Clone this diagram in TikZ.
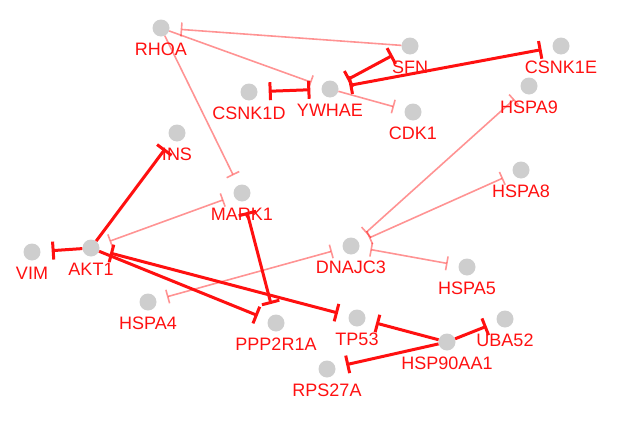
\documentclass[tikz,border=0pt]{standalone}
\usepackage{fontspec}
\setmainfont{Liberation Sans}
\usetikzlibrary{arrows.meta}

\definecolor{nodegray}{RGB}{206,206,206}
\definecolor{inhibred}{RGB}{255,16,16}

\begin{document}
\begin{tikzpicture}[
    x=1pt, y=-1pt,
    font=\fontsize{18}{18}\selectfont,
    gene/.style={
        circle, fill=nodegray, minimum size=17pt, inner sep=0pt,
        label={[genelabel]below:#1}
    },
    genelabel/.style={text=inhibred, inner sep=0pt, label distance=6pt},
    strong/.style={draw=inhibred, line width=3pt},
    weak/.style={draw=inhibred, draw opacity=0.45, line width=1.6pt},
    inhib/.style={-{Bar[width=#1]}, shorten >=11pt},
    mutual/.style={{Bar[width=#1]}-{Bar[width=#1]}, shorten >=11pt, shorten <=11pt},
]

    \useasboundingbox (0,0) rectangle (622,434);

    % ---------- upper cluster ----------
    \node[gene=RHOA] (rhoa) at (161,28) {};
    \node[gene=SFN] (sfn) at (410,46) {};
    \node[gene=CSNK1E] (csnk1e) at (561,46) {};
    \node[gene=CSNK1D] (csnk1d) at (249,92) {};
    \node[gene=YWHAE] (ywhae) at (330,89) {};
    \node[gene=CDK1] (cdk1) at (413,112) {};
    \node[gene=HSPA9] (hspa9) at (529,86) {};

    % ---------- middle ----------
    \node[gene=INS] (ins) at (177,133) {};
    \node[gene=MARK1] (mark1) at (242,193) {};
    \node[gene=HSPA8] (hspa8) at (521,170) {};
    \node[gene=VIM] (vim) at (32,252) {};
    \node[gene=AKT1] (akt1) at (91,248) {};
    \node[gene=DNAJC3] (dnajc3) at (351,246) {};
    \node[gene=HSPA5] (hspa5) at (467,267) {};

    % ---------- lower cluster ----------
    \node[gene=HSPA4] (hspa4) at (148,302) {};
    \node[gene=PPP2R1A] (ppp2r1a) at (276,323) {};
    \node[gene=TP53] (tp53) at (357,318) {};
    \node[gene=UBA52] (uba52) at (505,319) {};
    \node[gene=HSP90AA1] (hsp90aa1) at (447,342) {};
    \node[gene=RPS27A] (rps27a) at (327,369) {};

    % weak inhibitions
    \draw[weak, inhib=14pt] (sfn) -- (rhoa);
    \draw[weak, inhib=14pt] (rhoa) -- (ywhae);
    \draw[weak, inhib=14pt] (rhoa) -- (mark1);
    \draw[weak, mutual=14pt] (akt1) -- (mark1);
    \draw[weak, inhib=14pt] (ywhae) -- (cdk1);
    \draw[weak, mutual=14pt] (dnajc3) -- (hspa9);
    \draw[weak, mutual=14pt] (dnajc3) -- (hspa8);
    \draw[weak, mutual=14pt] (dnajc3) -- (hspa5);
    \draw[weak, mutual=14pt] (dnajc3) -- (hspa4);

    % strong inhibitions
    \draw[strong, mutual=18pt] (ywhae) -- (sfn);
    \draw[strong, mutual=18pt] (ywhae) -- (csnk1e);
    \draw[strong, mutual=18pt] (ywhae) -- (csnk1d);
    \draw[strong, inhib=18pt] (akt1) -- (ins);
    \draw[strong, inhib=18pt] (akt1) -- (vim);
    \draw[strong, mutual=18pt] (akt1) -- (tp53);
    \draw[strong, inhib=18pt] (akt1) -- (ppp2r1a);
    \draw[strong, mutual=18pt] (mark1) -- (ppp2r1a);
    \draw[strong, inhib=18pt] (hsp90aa1) -- (tp53);
    \draw[strong, inhib=18pt] (hsp90aa1) -- (uba52);
    \draw[strong, inhib=18pt] (hsp90aa1) -- (rps27a);

\end{tikzpicture}
\end{document}
